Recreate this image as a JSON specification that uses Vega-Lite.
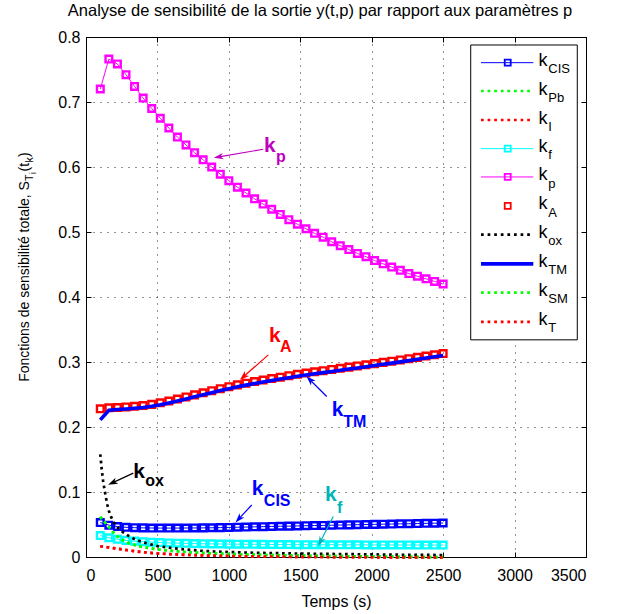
{
  "$schema": "https://vega.github.io/schema/vega-lite/v6.json",
  "width": 500,
  "height": 520,
  "autosize": {"type": "none"},
  "padding": {"left": 86, "top": 37, "right": 32, "bottom": 57},
  "background": "white",
  "title": {"text": "Analyse de sensibilité de la sortie y(t,p) par rapport aux paramètres p", "fontSize": 16.5, "fontWeight": "normal", "font": "Liberation Sans", "color": "#000", "offset": 10, "dx": -16},
  "config": {
    "font": "Liberation Sans",
    "view": {"stroke": "black", "strokeWidth": 1},
    "legend": {"disable": true},
    "axis": {"labelFont": "Liberation Sans", "labelFontSize": 16, "labelColor": "#000", "domainColor": "#000", "tickColor": "#000", "gridColor": "#000", "gridDash": [1, 6], "gridOpacity": 0.85, "titleFont": "Liberation Sans", "titleFontSize": 16, "titleFontWeight": "normal", "titleColor": "#000"}
  },
  "datasets": {
    "markers": [
      {"t":100,"kCIS":0.0530,"kf":0.0330,"kp":0.720,"kA":0.2280,"kTM":0.2110},
      {"t":160,"kCIS":0.0490,"kf":0.0295,"kp":0.766,"kA":0.2295,"kTM":0.2258},
      {"t":220,"kCIS":0.0468,"kf":0.0272,"kp":0.7585,"kA":0.2300,"kTM":0.2270},
      {"t":280,"kCIS":0.0457,"kf":0.0256,"kp":0.742,"kA":0.2308,"kTM":0.2278},
      {"t":340,"kCIS":0.0451,"kf":0.0244,"kp":0.724,"kA":0.2318,"kTM":0.2288},
      {"t":400,"kCIS":0.0448,"kf":0.0235,"kp":0.706,"kA":0.2330,"kTM":0.2300},
      {"t":460,"kCIS":0.0446,"kf":0.0228,"kp":0.690,"kA":0.2348,"kTM":0.2318},
      {"t":520,"kCIS":0.0445,"kf":0.0222,"kp":0.675,"kA":0.2372,"kTM":0.2342},
      {"t":580,"kCIS":0.0445,"kf":0.0217,"kp":0.660,"kA":0.2400,"kTM":0.2370},
      {"t":640,"kCIS":0.0445,"kf":0.0213,"kp":0.646,"kA":0.2430,"kTM":0.2400},
      {"t":700,"kCIS":0.0446,"kf":0.0210,"kp":0.634,"kA":0.2462,"kTM":0.2432},
      {"t":760,"kCIS":0.0447,"kf":0.0207,"kp":0.622,"kA":0.2494,"kTM":0.2464},
      {"t":820,"kCIS":0.0448,"kf":0.0204,"kp":0.611,"kA":0.2526,"kTM":0.2496},
      {"t":880,"kCIS":0.0450,"kf":0.0202,"kp":0.600,"kA":0.2558,"kTM":0.2528},
      {"t":940,"kCIS":0.0452,"kf":0.0200,"kp":0.589,"kA":0.2590,"kTM":0.2560},
      {"t":1000,"kCIS":0.0455,"kf":0.0198,"kp":0.579,"kA":0.2620,"kTM":0.2590},
      {"t":1060,"kCIS":0.0458,"kf":0.0197,"kp":0.569,"kA":0.2648,"kTM":0.2618},
      {"t":1120,"kCIS":0.0461,"kf":0.0196,"kp":0.560,"kA":0.2674,"kTM":0.2644},
      {"t":1180,"kCIS":0.0464,"kf":0.0195,"kp":0.551,"kA":0.2699,"kTM":0.2669},
      {"t":1240,"kCIS":0.0467,"kf":0.0194,"kp":0.543,"kA":0.2722,"kTM":0.2692},
      {"t":1300,"kCIS":0.0470,"kf":0.0193,"kp":0.535,"kA":0.2745,"kTM":0.2715},
      {"t":1360,"kCIS":0.0473,"kf":0.0192,"kp":0.527,"kA":0.2767,"kTM":0.2737},
      {"t":1420,"kCIS":0.0475,"kf":0.0191,"kp":0.519,"kA":0.2789,"kTM":0.2759},
      {"t":1480,"kCIS":0.0478,"kf":0.0190,"kp":0.512,"kA":0.2810,"kTM":0.2780},
      {"t":1540,"kCIS":0.0481,"kf":0.0190,"kp":0.505,"kA":0.2830,"kTM":0.2800},
      {"t":1600,"kCIS":0.0484,"kf":0.0189,"kp":0.498,"kA":0.2849,"kTM":0.2819},
      {"t":1660,"kCIS":0.0486,"kf":0.0189,"kp":0.492,"kA":0.2867,"kTM":0.2837},
      {"t":1720,"kCIS":0.0489,"kf":0.0188,"kp":0.485,"kA":0.2885,"kTM":0.2855},
      {"t":1780,"kCIS":0.0492,"kf":0.0188,"kp":0.479,"kA":0.2903,"kTM":0.2873},
      {"t":1840,"kCIS":0.0494,"kf":0.0187,"kp":0.473,"kA":0.2921,"kTM":0.2891},
      {"t":1900,"kCIS":0.0497,"kf":0.0187,"kp":0.467,"kA":0.2939,"kTM":0.2909},
      {"t":1960,"kCIS":0.0500,"kf":0.0186,"kp":0.462,"kA":0.2957,"kTM":0.2927},
      {"t":2020,"kCIS":0.0502,"kf":0.0186,"kp":0.456,"kA":0.2975,"kTM":0.2945},
      {"t":2080,"kCIS":0.0505,"kf":0.0186,"kp":0.451,"kA":0.2994,"kTM":0.2964},
      {"t":2140,"kCIS":0.0507,"kf":0.0185,"kp":0.446,"kA":0.3013,"kTM":0.2983},
      {"t":2200,"kCIS":0.0510,"kf":0.0185,"kp":0.441,"kA":0.3032,"kTM":0.3002},
      {"t":2260,"kCIS":0.0512,"kf":0.0185,"kp":0.436,"kA":0.3051,"kTM":0.3021},
      {"t":2320,"kCIS":0.0515,"kf":0.0184,"kp":0.432,"kA":0.3071,"kTM":0.3041},
      {"t":2380,"kCIS":0.0518,"kf":0.0184,"kp":0.428,"kA":0.3091,"kTM":0.3061},
      {"t":2440,"kCIS":0.0520,"kf":0.0184,"kp":0.424,"kA":0.3111,"kTM":0.3081},
      {"t":2500,"kCIS":0.0523,"kf":0.0184,"kp":0.420,"kA":0.3130,"kTM":0.3100}
    ],
    "decay": [
      {"t":100,"kPb":0.0620,"kI":0.0165,"kox":0.158,"kSM":0.0620,"kT":0.0165},
      {"t":110,"kPb":0.0590,"kI":0.0162,"kox":0.135,"kSM":0.0590,"kT":0.0162},
      {"t":120,"kPb":0.0565,"kI":0.0159,"kox":0.117,"kSM":0.0565,"kT":0.0159},
      {"t":130,"kPb":0.0540,"kI":0.0156,"kox":0.103,"kSM":0.0540,"kT":0.0156},
      {"t":140,"kPb":0.0515,"kI":0.0153,"kox":0.091,"kSM":0.0515,"kT":0.0153},
      {"t":150,"kPb":0.0490,"kI":0.0150,"kox":0.080,"kSM":0.0490,"kT":0.0150},
      {"t":160,"kPb":0.0465,"kI":0.0147,"kox":0.071,"kSM":0.0465,"kT":0.0147},
      {"t":175,"kPb":0.0425,"kI":0.0142,"kox":0.062,"kSM":0.0425,"kT":0.0142},
      {"t":190,"kPb":0.0380,"kI":0.0137,"kox":0.055,"kSM":0.0380,"kT":0.0137},
      {"t":210,"kPb":0.0335,"kI":0.0131,"kox":0.048,"kSM":0.0335,"kT":0.0131},
      {"t":230,"kPb":0.0298,"kI":0.0125,"kox":0.0435,"kSM":0.0298,"kT":0.0125},
      {"t":260,"kPb":0.0255,"kI":0.0115,"kox":0.038,"kSM":0.0255,"kT":0.0115},
      {"t":300,"kPb":0.0212,"kI":0.0102,"kox":0.032,"kSM":0.0212,"kT":0.0102},
      {"t":350,"kPb":0.0178,"kI":0.0087,"kox":0.0265,"kSM":0.0178,"kT":0.0087},
      {"t":400,"kPb":0.0152,"kI":0.0074,"kox":0.0225,"kSM":0.0152,"kT":0.0074},
      {"t":500,"kPb":0.0116,"kI":0.0055,"kox":0.0168,"kSM":0.0116,"kT":0.0055},
      {"t":600,"kPb":0.0094,"kI":0.0042,"kox":0.0138,"kSM":0.0094,"kT":0.0042},
      {"t":700,"kPb":0.0077,"kI":0.0033,"kox":0.0115,"kSM":0.0077,"kT":0.0033},
      {"t":800,"kPb":0.0064,"kI":0.0026,"kox":0.0097,"kSM":0.0064,"kT":0.0026},
      {"t":900,"kPb":0.0054,"kI":0.0020,"kox":0.0085,"kSM":0.0054,"kT":0.0020},
      {"t":1000,"kPb":0.0046,"kI":0.0016,"kox":0.0076,"kSM":0.0046,"kT":0.0016},
      {"t":1200,"kPb":0.0034,"kI":0.0009,"kox":0.0064,"kSM":0.0034,"kT":0.0009},
      {"t":1400,"kPb":0.0025,"kI":0.0004,"kox":0.0056,"kSM":0.0025,"kT":0.0004},
      {"t":1600,"kPb":0.0018,"kI":0.0001,"kox":0.0050,"kSM":0.0018,"kT":0.0001},
      {"t":1800,"kPb":0.0012,"kI":-0.0002,"kox":0.0045,"kSM":0.0012,"kT":-0.0002},
      {"t":2000,"kPb":0.0007,"kI":-0.0004,"kox":0.0040,"kSM":0.0007,"kT":-0.0004},
      {"t":2200,"kPb":0.0003,"kI":-0.0006,"kox":0.0035,"kSM":0.0003,"kT":-0.0006},
      {"t":2500,"kPb":-0.0003,"kI":-0.0008,"kox":0.0030,"kSM":-0.0003,"kT":-0.0008}
    ],
    "arrows": [
      {"k":"a_p","t":1241,"v":0.6273,"t2":930,"v2":0.6155},
      {"k":"a_A","t":1276,"v":0.311,"t2":1104,"v2":0.2777},
      {"k":"a_TM","t":1685,"v":0.247,"t2":1569,"v2":0.2723},
      {"k":"a_ox","t":331,"v":0.129,"t2":188,"v2":0.1144},
      {"k":"a_CIS","t":1160,"v":0.080,"t2":1071,"v2":0.0589},
      {"k":"a_f","t":1731,"v":0.0624,"t2":1642,"v2":0.0242}
    ],
    "heads": [
      {"k":"a_p","t":930,"v":0.6155,"a":-99.8},
      {"k":"a_A","t":1104,"v":0.2777,"a":-131.5},
      {"k":"a_TM","t":1569,"v":0.2723,"a":-45},
      {"k":"a_ox","t":188,"v":0.1144,"a":-115.1},
      {"k":"a_CIS","t":1071,"v":0.0589,"a":-137.9},
      {"k":"a_f","t":1642,"v":0.0242,"a":-152.9}
    ],
    "labels": [
      {"k":"a_p","part":"main","txt":"k","t":1246,"v":0.6232},
      {"k":"a_p","part":"sub","txt":"p","t":1330,"v":0.6078},
      {"k":"a_A","part":"main","txt":"k","t":1281,"v":0.331},
      {"k":"a_A","part":"sub","txt":"A","t":1358,"v":0.3159},
      {"k":"a_TM","part":"main","txt":"k","t":1720,"v":0.2162},
      {"k":"a_TM","part":"sub","txt":"TM","t":1801,"v":0.1993},
      {"k":"a_ox","part":"main","txt":"k","t":331,"v":0.1215},
      {"k":"a_ox","part":"sub","txt":"ox","t":415,"v":0.1085},
      {"k":"a_CIS","part":"main","txt":"k","t":1160,"v":0.0958},
      {"k":"a_CIS","part":"sub","txt":"CIS","t":1245,"v":0.0789},
      {"k":"a_f","part":"main","txt":"k","t":1673,"v":0.0855},
      {"k":"a_f","part":"sub","txt":"f","t":1757,"v":0.0681}
    ],
    "legend": [
      {"s":"kCIS","sub":"CIS","v":0.7605},
      {"s":"kPb","sub":"Pb","v":0.7169},
      {"s":"kI","sub":"I","v":0.6723},
      {"s":"kf","sub":"f","v":0.6282},
      {"s":"kp","sub":"p","v":0.5847},
      {"s":"kA","sub":"A","v":0.5401},
      {"s":"kox","sub":"ox","v":0.4960},
      {"s":"kTM","sub":"TM","v":0.4510},
      {"s":"kSM","sub":"SM","v":0.4068},
      {"s":"kT","sub":"T","v":0.3618}
    ],
    "ytitle": [
      {"part":"main","txt":"Fonctions de sensibilité totale, S","t":-402.5,"v":0.2695},
      {"part":"sub","txt":"T","t":-374.5,"v":0.5786},
      {"part":"subsub","txt":"i","t":-350,"v":0.5893},
      {"part":"main","txt":"(t","t":-402.5,"v":0.5932},
      {"part":"sub","txt":"k","t":-374.5,"v":0.6070},
      {"part":"main","txt":")","t":-402.5,"v":0.6155}
    ]
  },
  "layer": [
    {
      "layer": [
        {
          "data": {"name": "markers"},
          "transform": [{"fold": ["kCIS", "kf", "kp"], "as": ["s", "v"]}],
          "mark": {"type": "line", "strokeWidth": 1},
          "encoding": {
            "x": {"field": "t", "type": "quantitative", "scale": {"domain": [0, 3500], "nice": false, "zero": false},
              "axis": {"orient": "bottom", "values": [0, 500, 1000, 1500, 2000, 2500, 3000, 3500], "format": "d", "title": "Temps (s)", "grid": true, "tickSize": -5, "labelPadding": 15, "titlePadding": 10}},
            "y": {"field": "v", "type": "quantitative", "scale": {"domain": [0, 0.8], "nice": false, "zero": false},
              "axis": {"orient": "left", "values": [0, 0.1, 0.2, 0.3, 0.4, 0.5, 0.6, 0.7, 0.8], "format": ".1~f", "title": null, "grid": true, "tickSize": -5, "labelPadding": 11}},
            "color": {"field": "s", "type": "nominal", "scale": {"domain": ["kCIS","kPb","kI","kf","kp","kA","kox","kTM","kSM","kT","a_p","a_A","a_TM","a_ox","a_CIS","a_f","blk"], "range": ["#0000ff","#00ff00","#ff0000","#00ffff","#ff00ff","#ff0000","#000000","#0000ff","#00ff00","#ff0000","#bf00bf","#ff0000","#0000ff","#000000","#0000ff","#00b5b5","#000000"]}},
            "detail": {"field": "s"}
          }
        },
        {
          "data": {"name": "markers"},
          "transform": [{"fold": ["kCIS", "kf", "kp", "kA"], "as": ["s", "v"]}],
          "mark": {"type": "point", "shape": "square", "filled": false, "size": 44, "strokeWidth": 2.4, "opacity": 1},
          "encoding": {
            "x": {"field": "t", "type": "quantitative"},
            "y": {"field": "v", "type": "quantitative"},
            "color": {"field": "s", "type": "nominal"}
          }
        },
        {
          "data": {"name": "decay"},
          "transform": [{"fold": ["kPb", "kI", "kox", "kSM", "kT"], "as": ["s", "v"]}],
          "mark": {"type": "line", "strokeWidth": 2.7, "strokeDash": [2.7, 3.6], "strokeCap": "butt"},
          "encoding": {
            "x": {"field": "t", "type": "quantitative"},
            "y": {"field": "v", "type": "quantitative"},
            "color": {"field": "s", "type": "nominal"}
          }
        },
        {
          "data": {"name": "markers"},
          "mark": {"type": "line", "strokeWidth": 3.6},
          "encoding": {
            "x": {"field": "t", "type": "quantitative"},
            "y": {"field": "kTM", "type": "quantitative"},
            "color": {"datum": "kTM"}
          }
        },
        {
          "data": {"name": "arrows"},
          "mark": {"type": "rule", "strokeWidth": 1.2},
          "encoding": {
            "x": {"field": "t", "type": "quantitative"},
            "y": {"field": "v", "type": "quantitative"},
            "x2": {"field": "t2"},
            "y2": {"field": "v2"},
            "color": {"field": "k", "type": "nominal"}
          }
        },
        {
          "data": {"name": "heads"},
          "mark": {"type": "point", "shape": "M0,-1L0.62,0.85L0,0.35L-0.62,0.85Z", "filled": true, "size": 110, "opacity": 1, "strokeWidth": 0},
          "encoding": {
            "x": {"field": "t", "type": "quantitative"},
            "y": {"field": "v", "type": "quantitative"},
            "angle": {"field": "a", "type": "quantitative", "scale": null},
            "color": {"field": "k", "type": "nominal"}
          }
        },
        {
          "data": {"name": "labels"},
          "transform": [{"filter": "datum.part == 'main'"}],
          "mark": {"type": "text", "align": "left", "baseline": "alphabetic", "fontSize": 21, "fontWeight": "bold", "font": "Liberation Sans"},
          "encoding": {
            "x": {"field": "t", "type": "quantitative"},
            "y": {"field": "v", "type": "quantitative"},
            "text": {"field": "txt"},
            "color": {"field": "k", "type": "nominal"}
          }
        },
        {
          "data": {"name": "labels"},
          "transform": [{"filter": "datum.part == 'sub'"}],
          "mark": {"type": "text", "align": "left", "baseline": "alphabetic", "fontSize": 16, "fontWeight": "bold", "font": "Liberation Sans"},
          "encoding": {
            "x": {"field": "t", "type": "quantitative"},
            "y": {"field": "v", "type": "quantitative"},
            "text": {"field": "txt"},
            "color": {"field": "k", "type": "nominal"}
          }
        },
        {
          "data": {"values": [{}]},
          "mark": {"type": "rect", "fill": "white", "stroke": "black", "strokeWidth": 1},
          "encoding": {
            "x": {"datum": 2693, "type": "quantitative"},
            "x2": {"datum": 3439},
            "y": {"datum": 0.3341, "type": "quantitative"},
            "y2": {"datum": 0.7877}
          }
        },
        {
          "data": {"name": "legend"},
          "transform": [{"filter": "indexof(['kCIS','kf','kp'], datum.s) >= 0"}],
          "mark": {"type": "rule", "strokeWidth": 1},
          "encoding": {
            "x": {"datum": 2765, "type": "quantitative"},
            "x2": {"datum": 3131},
            "y": {"field": "v", "type": "quantitative"},
            "color": {"field": "s", "type": "nominal"}
          }
        },
        {
          "data": {"name": "legend"},
          "transform": [{"filter": "indexof(['kPb','kI','kox','kSM','kT'], datum.s) >= 0"}],
          "mark": {"type": "rule", "strokeWidth": 2.7, "strokeDash": [2.7, 3.9], "strokeCap": "butt"},
          "encoding": {
            "x": {"datum": 2765, "type": "quantitative"},
            "x2": {"datum": 3131},
            "y": {"field": "v", "type": "quantitative"},
            "color": {"field": "s", "type": "nominal"}
          }
        },
        {
          "data": {"name": "legend"},
          "transform": [{"filter": "datum.s == 'kTM'"}],
          "mark": {"type": "rule", "strokeWidth": 3.6},
          "encoding": {
            "x": {"datum": 2765, "type": "quantitative"},
            "x2": {"datum": 3131},
            "y": {"field": "v", "type": "quantitative"},
            "color": {"field": "s", "type": "nominal"}
          }
        },
        {
          "data": {"name": "legend"},
          "transform": [{"filter": "indexof(['kCIS','kf','kp','kA'], datum.s) >= 0"}],
          "mark": {"type": "point", "shape": "square", "filled": false, "size": 36, "strokeWidth": 1.8, "opacity": 1},
          "encoding": {
            "x": {"datum": 2952, "type": "quantitative"},
            "y": {"field": "v", "type": "quantitative"},
            "color": {"field": "s", "type": "nominal"}
          }
        },
        {
          "data": {"name": "legend"},
          "mark": {"type": "text", "text": "k", "align": "left", "baseline": "alphabetic", "dy": 3.5, "fontSize": 18, "font": "Liberation Sans", "color": "#000"},
          "encoding": {
            "x": {"datum": 3167, "type": "quantitative"},
            "y": {"field": "v", "type": "quantitative"}
          }
        },
        {
          "data": {"name": "legend"},
          "mark": {"type": "text", "align": "left", "baseline": "alphabetic", "dy": 10.6, "fontSize": 13, "font": "Liberation Sans", "color": "#000"},
          "encoding": {
            "x": {"datum": 3236, "type": "quantitative"},
            "y": {"field": "v", "type": "quantitative"},
            "text": {"field": "sub"}
          }
        },
        {
          "data": {"name": "ytitle"},
          "transform": [{"filter": "datum.part == 'main'"}],
          "mark": {"type": "text", "angle": 270, "align": "left", "baseline": "alphabetic", "fontSize": 14, "font": "Liberation Sans", "color": "#000"},
          "encoding": {
            "x": {"field": "t", "type": "quantitative"},
            "y": {"field": "v", "type": "quantitative"},
            "text": {"field": "txt"}
          }
        },
        {
          "data": {"name": "ytitle"},
          "transform": [{"filter": "datum.part == 'sub'"}],
          "mark": {"type": "text", "angle": 270, "align": "left", "baseline": "alphabetic", "fontSize": 10.5, "font": "Liberation Sans", "color": "#000"},
          "encoding": {
            "x": {"field": "t", "type": "quantitative"},
            "y": {"field": "v", "type": "quantitative"},
            "text": {"field": "txt"}
          }
        },
        {
          "data": {"name": "ytitle"},
          "transform": [{"filter": "datum.part == 'subsub'"}],
          "mark": {"type": "text", "angle": 270, "align": "left", "baseline": "alphabetic", "fontSize": 8.5, "font": "Liberation Sans", "color": "#000"},
          "encoding": {
            "x": {"field": "t", "type": "quantitative"},
            "y": {"field": "v", "type": "quantitative"},
            "text": {"field": "txt"}
          }
        }
      ]
    },
    {
      "data": {"values": [{"t": 0, "v": 0}]},
      "mark": {"type": "point", "opacity": 0},
      "encoding": {
        "x": {"field": "t", "type": "quantitative", "axis": {"orient": "top", "values": [0, 500, 1000, 1500, 2000, 2500, 3000, 3500], "labels": false, "grid": false, "tickSize": -5, "title": null}},
        "y": {"field": "v", "type": "quantitative", "axis": {"orient": "right", "values": [0, 0.1, 0.2, 0.3, 0.4, 0.5, 0.6, 0.7, 0.8], "labels": false, "grid": false, "tickSize": -5, "title": null}}
      }
    }
  ],
  "resolve": {"axis": {"x": "independent", "y": "independent"}}
}
